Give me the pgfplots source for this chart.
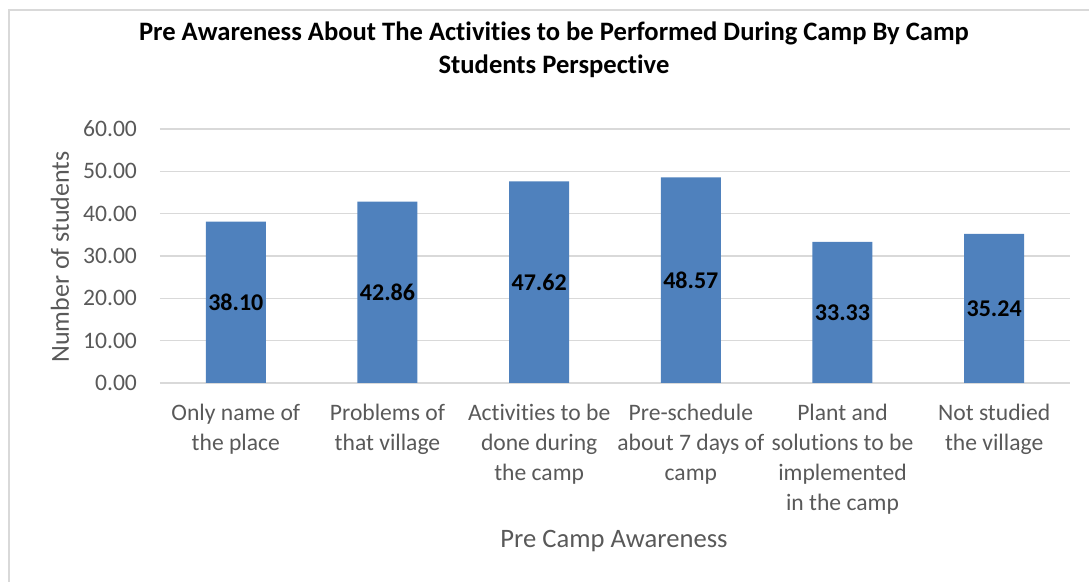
\documentclass[border=0pt]{standalone}
\usepackage{pgfplots}
\pgfplotsset{compat=1.18}
\usepackage{fontspec}
\setmainfont{Carlito}[Ligatures={NoCommon}]
\definecolor{barblue}{HTML}{4F81BD}
\definecolor{gridgray}{HTML}{D9D9D9}
\definecolor{ticktext}{HTML}{595959}

\begin{document}
\begin{tikzpicture}
% page = 1089x582 px at 0.5pt per px, origin at plot's lower left
\useasboundingbox (-80pt,-99.5pt) rectangle (464.5pt,191.5pt);
\draw[gridgray, line width=0.8pt] (-75.5pt,-100pt) -- (-75.5pt,186.5pt) -- (465pt,186.5pt);

\begin{axis}[
  at={(0,0)}, anchor=south west,
  scale only axis,
  width=455pt, height=127pt,
  ymin=0, ymax=60,
  xmin=-0.5, xmax=5.5,
  ytick={0,10,...,60},
  xtick={0,...,5},
  xticklabels={
    {Only name of\\the place},
    {Problems of\\that village},
    {Activities to be\\done during\\the camp},
    {Pre-schedule\\about 7 days of\\camp},
    {Plant and\\solutions to be\\implemented\\in the camp},
    {Not studied\\the village}},
  /pgf/number format/assume math mode=true,
  yticklabel style={/pgf/number format/fixed, /pgf/number format/fixed zerofill,
    /pgf/number format/precision=2, xshift=-8pt},
  tick label style={font=\fontsize{11.8}{15}\selectfont, text=ticktext},
  xticklabel style={align=center, anchor=north, yshift=-7pt},
  major tick length=0pt,
  axis line style={draw=none},
  ymajorgrids, grid style={gridgray, line width=0.8pt},
  ybar, bar width=30pt,
  visualization depends on=y \as \rawy,
  nodes near coords,
  nodes near coords style={font=\fontsize{12}{14}\selectfont\bfseries, text=black, anchor=center,
    shift={(axis direction cs:0,-\rawy/2)},
    /pgf/number format/fixed, /pgf/number format/fixed zerofill,
    /pgf/number format/precision=2, /pgf/number format/assume math mode=true},
]
\addplot[fill=barblue, draw=none] coordinates {(0,38.10) (1,42.86) (2,47.62) (3,48.57) (4,33.33) (5,35.24)};
\end{axis}

\node[font=\fontsize{13.3}{16.5}\selectfont\bfseries, align=center] at (197pt,166.5pt)
  {Pre Awareness About The Activities to be Performed During Camp By Camp\\Students Perspective};
\node[rotate=90, font=\fontsize{13}{15}\selectfont, text=ticktext] at (-50pt,63pt) {Number of students};
\node[font=\fontsize{13.3}{15}\selectfont, text=ticktext] at (227pt,-79pt) {Pre Camp Awareness};
\end{tikzpicture}
\end{document}
